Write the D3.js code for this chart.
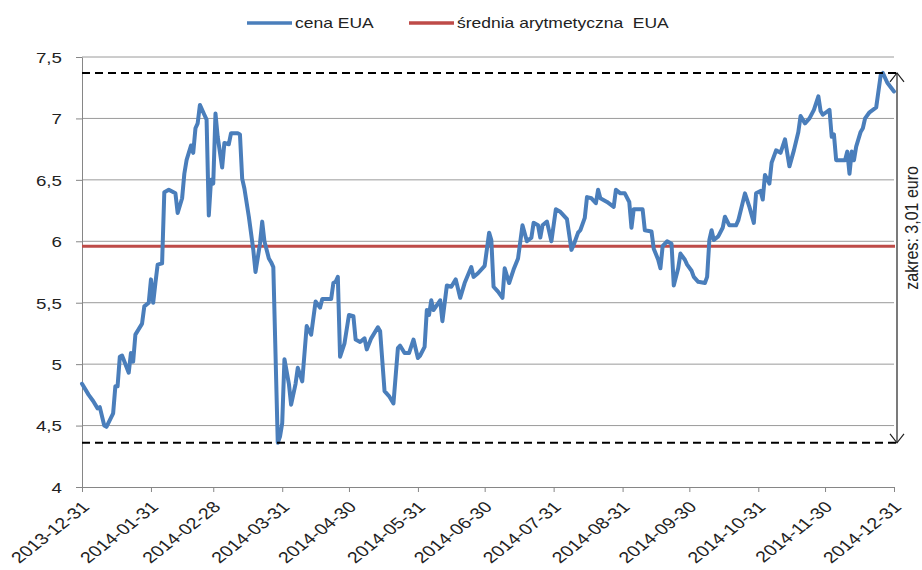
<!DOCTYPE html>
<html>
<head>
<meta charset="utf-8">
<script src="https://cdn.jsdelivr.net/npm/d3@7"></script>
<style>
  body { margin: 0; background: #fff; }
  svg { display: block; }
  text { font-family: "Liberation Sans", Arial, sans-serif; fill: #222; }
</style>
</head>
<body>
<div id="chart"></div>
<script>
// ------DATA------
// daily EUA price (euro); one line per month
const dates = [
  "2013-12-31",
  "2014-01-03","2014-01-05","2014-01-07","2014-01-08","2014-01-10","2014-01-11","2014-01-14","2014-01-15","2014-01-16","2014-01-17","2014-01-18","2014-01-21","2014-01-22","2014-01-23","2014-01-24","2014-01-27","2014-01-28","2014-01-30","2014-01-31",
  "2014-02-01","2014-02-02","2014-02-03","2014-02-05","2014-02-06","2014-02-08","2014-02-11","2014-02-12","2014-02-14","2014-02-15","2014-02-16","2014-02-18","2014-02-19","2014-02-20","2014-02-21","2014-02-22","2014-02-24","2014-02-25","2014-02-26","2014-02-27","2014-02-28",
  "2014-03-01","2014-03-02","2014-03-04","2014-03-05","2014-03-07","2014-03-08","2014-03-11","2014-03-12","2014-03-13","2014-03-14","2014-03-16","2014-03-18","2014-03-19","2014-03-21","2014-03-22","2014-03-23","2014-03-25","2014-03-26","2014-03-27","2014-03-29","2014-03-30","2014-03-31",
  "2014-04-01","2014-04-03","2014-04-04","2014-04-06","2014-04-07","2014-04-09","2014-04-11","2014-04-13","2014-04-15","2014-04-17","2014-04-18","2014-04-22","2014-04-23","2014-04-24","2014-04-25","2014-04-26","2014-04-28","2014-04-30",
  "2014-05-02","2014-05-03","2014-05-05","2014-05-07","2014-05-08","2014-05-10","2014-05-13","2014-05-14","2014-05-16","2014-05-18","2014-05-20","2014-05-22","2014-05-23","2014-05-25","2014-05-27","2014-05-29","2014-05-31",
  "2014-06-01","2014-06-03","2014-06-04","2014-06-05","2014-06-06","2014-06-07","2014-06-10","2014-06-11","2014-06-13","2014-06-15","2014-06-17","2014-06-19","2014-06-21","2014-06-24","2014-06-25","2014-06-27","2014-06-30",
  "2014-07-02","2014-07-03","2014-07-04","2014-07-06","2014-07-08","2014-07-09","2014-07-11","2014-07-13","2014-07-15","2014-07-17","2014-07-19","2014-07-21","2014-07-22","2014-07-24","2014-07-25","2014-07-26","2014-07-28","2014-07-30",
  "2014-08-01","2014-08-03","2014-08-06","2014-08-08","2014-08-09","2014-08-11","2014-08-12","2014-08-14","2014-08-15","2014-08-17","2014-08-19","2014-08-20","2014-08-21","2014-08-24","2014-08-27","2014-08-28","2014-08-30",
  "2014-09-01","2014-09-03","2014-09-04","2014-09-05","2014-09-09","2014-09-10","2014-09-13","2014-09-14","2014-09-16","2014-09-17","2014-09-18","2014-09-20","2014-09-22","2014-09-23","2014-09-25","2014-09-26","2014-09-28","2014-09-29",
  "2014-10-01","2014-10-02","2014-10-04","2014-10-07","2014-10-08","2014-10-09","2014-10-10","2014-10-11","2014-10-13","2014-10-15","2014-10-16","2014-10-18","2014-10-21","2014-10-22","2014-10-25","2014-10-27","2014-10-29","2014-10-30",
  "2014-11-01","2014-11-02","2014-11-03","2014-11-05","2014-11-06","2014-11-08","2014-11-10","2014-11-12","2014-11-14","2014-11-16","2014-11-18","2014-11-19","2014-11-21","2014-11-23","2014-11-25","2014-11-27","2014-11-28","2014-11-29",
  "2014-12-02","2014-12-03","2014-12-04","2014-12-05","2014-12-09","2014-12-10","2014-12-11","2014-12-12","2014-12-13","2014-12-14","2014-12-16","2014-12-17","2014-12-18","2014-12-20","2014-12-23","2014-12-25","2014-12-26","2014-12-28","2014-12-31"
]
const prices = [
  4.84,
  4.75,4.70,4.64,4.65,4.50,4.49,4.60,4.82,4.82,5.06,5.07,4.93,5.09,5.02,5.24,5.33,5.47,5.50,5.69,
  5.50,5.66,5.81,5.82,6.40,6.42,6.39,6.23,6.35,6.55,6.66,6.78,6.72,6.92,6.96,7.11,7.03,6.99,6.21,6.50,6.47,
  7.04,6.85,6.60,6.80,6.79,6.88,6.88,6.87,6.51,6.43,6.20,5.93,5.75,5.98,6.16,6.00,5.86,5.83,5.79,4.36,4.41,4.52,
  5.04,4.84,4.67,4.84,4.97,4.86,5.31,5.24,5.51,5.46,5.53,5.53,5.66,5.67,5.71,5.06,5.17,5.40,
  5.39,5.20,5.18,5.21,5.12,5.21,5.30,5.27,4.78,4.74,4.68,5.13,5.15,5.09,5.09,5.20,5.05,
  5.07,5.14,5.44,5.40,5.52,5.44,5.52,5.35,5.64,5.63,5.69,5.54,5.66,5.79,5.71,5.74,5.80,
  6.07,6.01,5.63,5.59,5.54,5.78,5.66,5.77,5.86,6.13,6.00,6.03,6.15,6.13,6.03,6.13,6.16,6.00,
  6.26,6.24,6.18,5.93,5.97,6.07,6.09,6.19,6.36,6.35,6.31,6.42,6.35,6.32,6.28,6.42,6.39,
  6.39,6.32,6.11,6.26,6.26,6.09,6.08,5.94,5.85,5.78,5.96,6.00,5.98,5.64,5.78,5.90,5.85,5.81,
  5.76,5.71,5.67,5.66,5.71,6.01,6.09,6.01,6.04,6.11,6.20,6.13,6.13,6.17,6.39,6.28,6.15,6.39,
  6.41,6.34,6.54,6.47,6.64,6.74,6.72,6.83,6.61,6.74,6.89,7.02,6.96,7.00,7.07,7.18,7.06,7.03,
  7.07,6.85,6.87,6.66,6.66,6.73,6.55,6.73,6.66,6.77,6.89,6.92,7.00,7.05,7.09,7.35,7.37,7.29,7.22
]
const meanPrice = 5.96          // średnia arytmetyczna
const rangeMax = 7.37
const rangeMin = 4.36
const rangeLabel = "zakres: 3,01 euro"

const tickDates = ["2013-12-31","2014-01-31","2014-02-28","2014-03-31","2014-04-30","2014-05-31",
  "2014-06-30","2014-07-31","2014-08-31","2014-09-30","2014-10-31","2014-11-30","2014-12-31"]
const yTicks = [4, 4.5, 5, 5.5, 6, 6.5, 7, 7.5]
const seriesNames = ["cena EUA", "średnia arytmetyczna  EUA"]
const seriesColors = ["#4a7ebb", "#be4b48"]

// ------SETUP------
const width = 922, height = 570
const margin = { top: 57, right: 28, bottom: 83, left: 82 }
const sx = 1.25   // the original picture is stretched sideways, so is its text

const parse = d3.utcParse("%Y-%m-%d")
const data = dates.map((d, i) => ({ date: parse(d), value: prices[i] }))

const svg = d3.select("#chart").append("svg")
  .attr("width", width).attr("height", height)

const xScale = d3.scaleUtc()
  .domain([parse(tickDates[0]), parse(tickDates[tickDates.length - 1])])
  .range([margin.left, width - margin.right])
const yScale = d3.scaleLinear()
  .domain([4, 7.5])
  .range([height - margin.bottom, margin.top])

const x0 = xScale.range()[0], x1 = xScale.range()[1]

// gridlines
svg.append("g").selectAll("line")
  .data(yTicks.filter(v => v > 4))
  .join("line")
    .attr("x1", x0).attr("x2", x1)
    .attr("y1", d => yScale(d)).attr("y2", d => yScale(d))
    .attr("stroke", "#9a9a9a").attr("stroke-width", 1)

// y axis
const yAxis = svg.append("g")
  .attr("transform", `translate(${x0},0)`)
  .call(d3.axisLeft(yScale).tickValues(yTicks).tickSize(6).tickSizeOuter(0)
    .tickFormat(d => String(d).replace(".", ",")))
yAxis.select(".domain").attr("stroke", "#868686")
yAxis.selectAll(".tick line").attr("stroke", "#868686")
yAxis.selectAll("text")
  .attr("x", 0).attr("dy", "0.36em")
  .attr("font-size", 15).attr("font-family", null).attr("fill", "#222")
  .attr("text-anchor", "end")
  .attr("transform", `translate(-20,0) scale(${sx},1)`)

// x axis
const xAxis = svg.append("g")
  .attr("transform", `translate(0,${yScale(4)})`)
  .call(d3.axisBottom(xScale).tickValues(tickDates.map(parse)).tickSize(5).tickSizeOuter(0)
    .tickFormat(d3.utcFormat("%Y-%m-%d")))
xAxis.select(".domain").attr("stroke", "#868686")
xAxis.selectAll(".tick line").attr("stroke", "#868686")
xAxis.selectAll("text")
  .attr("x", 0).attr("y", 0).attr("dy", 0)
  .attr("font-size", 15.5).attr("font-family", null).attr("fill", "#222")
  .attr("text-anchor", "end")
  .attr("transform", `translate(8,21) scale(1.27,1) rotate(-45)`)

// mean line
svg.append("line")
  .attr("x1", x0).attr("x2", x1 + 1)
  .attr("y1", yScale(meanPrice)).attr("y2", yScale(meanPrice))
  .attr("stroke", seriesColors[1]).attr("stroke-width", 3)

// price line
const line = d3.line()
  .x(d => xScale(d.date))
  .y(d => yScale(d.value))
svg.append("path")
  .datum(data)
  .attr("d", line)
  .attr("fill", "none")
  .attr("stroke", seriesColors[0])
  .attr("stroke-width", 4)
  .attr("stroke-linejoin", "round")
  .attr("stroke-linecap", "round")

// max / min dashed lines
const arrowX = x1 + 3
svg.append("g").selectAll("line")
  .data([rangeMax, rangeMin])
  .join("line")
    .attr("x1", x0).attr("x2", arrowX + 3)
    .attr("y1", d => yScale(d)).attr("y2", d => yScale(d))
    .attr("stroke", "#000").attr("stroke-width", 2)
    .attr("stroke-dasharray", "8,5")

// double arrow for the range
const yTop = yScale(rangeMax), yBot = yScale(rangeMin)
svg.append("line")
  .attr("x1", arrowX).attr("x2", arrowX)
  .attr("y1", yTop).attr("y2", yBot)
  .attr("stroke", "#222").attr("stroke-width", 1.2)
svg.append("path")
  .attr("d", `M${arrowX - 7},${yTop + 9}L${arrowX},${yTop}L${arrowX + 7},${yTop + 9}` +
             `M${arrowX - 7},${yBot - 9}L${arrowX},${yBot}L${arrowX + 7},${yBot - 9}`)
  .attr("fill", "none").attr("stroke", "#222").attr("stroke-width", 1.2)

svg.append("text")
  .attr("transform", `translate(${arrowX + 21},${(yTop + yBot) / 2 - 30}) scale(1.15,1) rotate(-90)`)
  .attr("text-anchor", "middle")
  .attr("font-size", 16)
  .text(rangeLabel)

// legend
const legendX = [247, 409]
const legend = svg.append("g").selectAll("g")
  .data(seriesNames)
  .join("g")
    .attr("transform", (d, i) => `translate(${legendX[i]},23)`)
legend.append("line")
  .attr("x1", 0).attr("x2", 45)
  .attr("stroke", (d, i) => seriesColors[i])
  .attr("stroke-width", 3.5)
legend.append("text")
  .attr("transform", `translate(48,5) scale(${sx},1)`)
  .attr("font-size", 14)
  .style("white-space", "pre")
  .text(d => d)
</script>
</body>
</html>
